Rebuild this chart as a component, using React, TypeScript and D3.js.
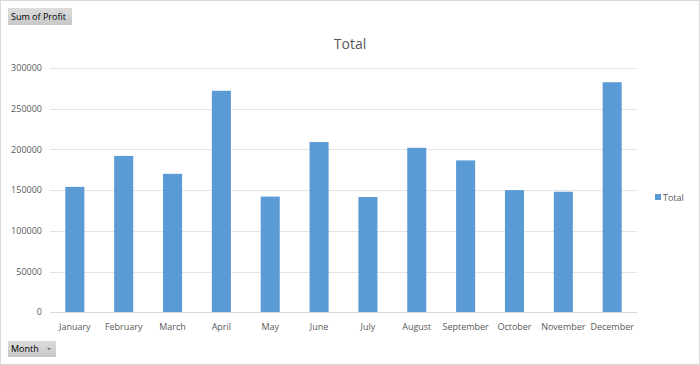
import React, { useEffect, useRef } from 'react';
import * as d3 from 'd3';

const months = ['January', 'February', 'March', 'April', 'May', 'June', 'July', 'August', 'September', 'October', 'November', 'December'];
const profit = [154000, 192000, 170000, 272000, 142000, 209000, 141500, 202000, 186500, 150000, 148000, 282500];
const yTicks = [0, 50000, 100000, 150000, 200000, 250000, 300000];

const font = '"Open Sans", sans-serif';
const textColor = '#595959';
const barColor = '#5b9bd5';

export default function App() {
    const svgRef = useRef<SVGSVGElement>(null);
    const width = 700;
    const height = 365;

    useEffect(() => {
        const svg = d3.select(svgRef.current);
        svg.selectAll('*').remove();

        // frame
        svg.append('rect')
            .attr('x', 0.5).attr('y', 0.5)
            .attr('width', width - 1).attr('height', height - 1)
            .attr('fill', '#fff').attr('stroke', '#d9d9d9');

        const x = d3.scaleBand<string>().domain(months).range([50.4, 636.6]);
        const y = d3.scaleLinear().domain([0, 300000]).range([312.2, 68]);

        // gridlines
        svg.append('g').selectAll('line')
            .data(yTicks.filter(t => t > 0))
            .join('line')
            .attr('x1', 50).attr('x2', 637)
            .attr('y1', d => Math.round(y(d)) + 0.5).attr('y2', d => Math.round(y(d)) + 0.5)
            .attr('stroke', '#e3e3e3');

        // y labels
        svg.append('g').selectAll('text')
            .data(yTicks)
            .join('text')
            .attr('x', 42).attr('y', d => y(d))
            .attr('dy', '0.35em')
            .attr('text-anchor', 'end')
            .attr('font-family', font).attr('font-size', 9)
            .attr('fill', textColor)
            .text(d => d);

        // bars
        const bw = x.bandwidth() * 0.39;
        svg.append('g').selectAll('rect')
            .data(profit)
            .join('rect')
            .attr('x', (d, i) => x(months[i])! + (x.bandwidth() - bw) / 2)
            .attr('y', d => y(d))
            .attr('width', bw)
            .attr('height', d => y(0) - y(d))
            .attr('fill', barColor);

        // baseline
        svg.append('line')
            .attr('x1', 50).attr('x2', 637)
            .attr('y1', 312.5).attr('y2', 312.5)
            .attr('stroke', '#d9d9d9');

        // x labels
        svg.append('g').selectAll('text')
            .data(months)
            .join('text')
            .attr('x', d => x(d)! + x.bandwidth() / 2)
            .attr('y', 327)
            .attr('dy', '0.35em')
            .attr('text-anchor', 'middle')
            .attr('font-family', font).attr('font-size', 9)
            .attr('fill', textColor)
            .text(d => d);

        // title
        svg.append('text')
            .attr('x', 350).attr('y', 44)
            .attr('dy', '0.35em')
            .attr('text-anchor', 'middle')
            .attr('font-family', font).attr('font-size', 14)
            .attr('fill', textColor)
            .text('Total');

        // legend
        svg.append('rect')
            .attr('x', 655).attr('y', 194).attr('width', 6).attr('height', 6)
            .attr('fill', barColor);
        svg.append('text')
            .attr('x', 663).attr('y', 197.5)
            .attr('dy', '0.35em')
            .attr('font-family', font).attr('font-size', 9)
            .attr('fill', textColor)
            .text('Total');

        // field buttons
        const grad = svg.append('defs').append('linearGradient')
            .attr('id', 'btn').attr('x1', 0).attr('y1', 0).attr('x2', 0).attr('y2', 1);
        grad.append('stop').attr('offset', '0%').attr('stop-color', '#dcdcdc');
        grad.append('stop').attr('offset', '100%').attr('stop-color', '#c8c8c8');

        svg.append('rect')
            .attr('x', 8).attr('y', 8).attr('width', 64).attr('height', 17)
            .attr('fill', 'url(#btn)');
        svg.append('text')
            .attr('x', 11).attr('y', 16.5).attr('dy', '0.35em')
            .attr('font-family', font).attr('font-size', 9)
            .attr('fill', '#000')
            .text('Sum of Profit');

        svg.append('rect')
            .attr('x', 8).attr('y', 341).attr('width', 48).attr('height', 16)
            .attr('fill', 'url(#btn)');
        svg.append('text')
            .attr('x', 11).attr('y', 349).attr('dy', '0.35em')
            .attr('font-family', font).attr('font-size', 9)
            .attr('fill', '#000')
            .text('Month');
        svg.append('path')
            .attr('d', 'M47,348 L51,348 L49,350 Z')
            .attr('fill', '#666');
    }, []);

    return (
        <svg ref={svgRef} width={width} height={height}
            style={{ position: 'absolute', left: 0, top: 0 }} />
    );
}
